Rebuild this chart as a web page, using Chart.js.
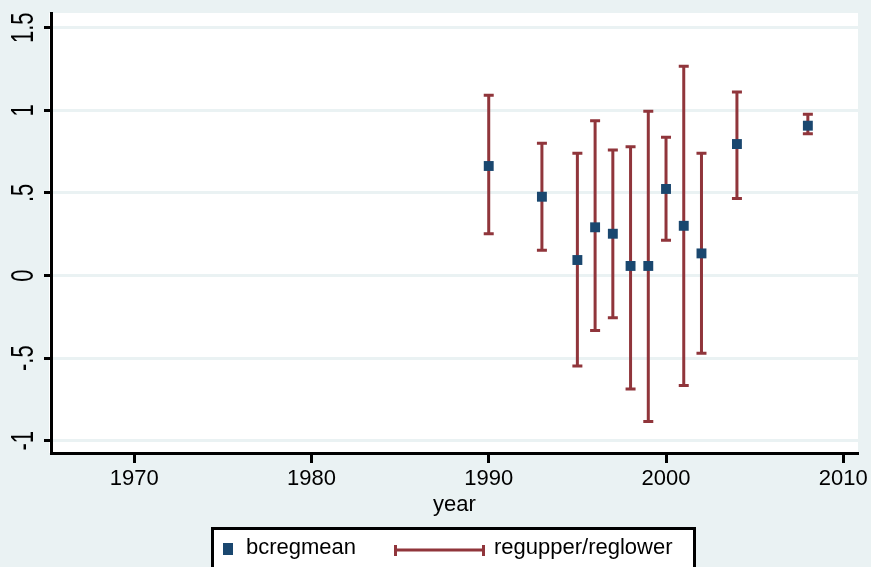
<!DOCTYPE html>
<html>
<head>
<meta charset="utf-8">
<script src="https://cdn.jsdelivr.net/npm/chart.js@4.4.1/dist/chart.umd.min.js"></script>
<style>
  html, body { margin: 0; padding: 0; background: #eaf2f3; }
  canvas { display: block; }
</style>
</head>
<body>
<canvas id="chart" width="871" height="567"></canvas>
<script>
var years     = [1990, 1993, 1995, 1996, 1997, 1998, 1999, 2000, 2001, 2002, 2004, 2008];
var bcregmean = [0.663, 0.477, 0.094, 0.292, 0.253, 0.058, 0.058, 0.524, 0.301, 0.134, 0.796, 0.907];
var regupper  = [1.091, 0.800, 0.740, 0.937, 0.760, 0.780, 0.994, 0.837, 1.266, 0.740, 1.111, 0.976];
var reglower  = [0.253, 0.153, -0.548, -0.332, -0.255, -0.687, -0.883, 0.213, -0.665, -0.471, 0.467, 0.858];

var xTicks = [1970, 1980, 1990, 2000, 2010];
var xTickLabels = ['1970', '1980', '1990', '2000', '2010'];
var yTicks = [-1, -0.5, 0, 0.5, 1, 1.5];
var yTickLabels = ['-1', '-.5', '0', '.5', '1', '1.5'];
var seriesLabels = ['bcregmean', 'regupper/reglower'];
var xTitle = 'year';

var navy = '#1a476f';
var maroon = '#90353b';
var fontFamily = '"Liberation Sans", Arial, sans-serif';

// white plot region
const plotBg = {
  id: 'plotBg',
  beforeDraw(chart) {
    const {ctx, chartArea: {left, top, right, bottom}} = chart;
    ctx.save();
    ctx.fillStyle = '#ffffff';
    ctx.fillRect(left - 2, top, right - left + 2, bottom - top);
    ctx.restore();
  }
};

// range caps (regupper / reglower)
const errorBars = {
  id: 'errorBars',
  beforeDatasetsDraw(chart) {
    const {ctx, scales: {x, y}} = chart;
    ctx.save();
    ctx.strokeStyle = maroon;
    ctx.lineWidth = 3;
    for (let i = 0; i < years.length; i++) {
      const px = x.getPixelForValue(years[i]);
      const pu = y.getPixelForValue(regupper[i]);
      const pl = y.getPixelForValue(reglower[i]);
      ctx.beginPath();
      ctx.moveTo(px, pu); ctx.lineTo(px, pl);
      ctx.moveTo(px - 5, pu); ctx.lineTo(px + 5, pu);
      ctx.moveTo(px - 5, pl); ctx.lineTo(px + 5, pl);
      ctx.stroke();
    }
    ctx.restore();
  }
};

// rotated y labels + legend box
const extras = {
  id: 'extras',
  afterDraw(chart) {
    const {ctx, scales: {y}} = chart;
    const fs = 22;
    ctx.save();
    ctx.fillStyle = '#000';
    ctx.font = fs + 'px ' + fontFamily;
    ctx.textAlign = 'center';
    ctx.textBaseline = 'alphabetic';
    yTicks.forEach((v, i) => {
      const py = y.getPixelForValue(v);
      ctx.save();
      ctx.translate(21.5, py);
      ctx.rotate(-Math.PI / 2);
      ctx.scale(1, 1.4);
      ctx.fillText(yTickLabels[i], 0, 0.358 * fs);
      ctx.restore();
    });

    // legend
    ctx.fillStyle = '#ffffff';
    ctx.fillRect(211, 527, 485, 50);
    ctx.strokeStyle = '#000';
    ctx.lineWidth = 3;
    ctx.strokeRect(212.5, 528.5, 482, 50);

    ctx.fillStyle = navy;
    ctx.fillRect(223, 543, 10, 12);

    ctx.strokeStyle = maroon;
    ctx.lineWidth = 3;
    ctx.beginPath();
    ctx.moveTo(395, 550); ctx.lineTo(484, 550);
    ctx.moveTo(395.5, 545); ctx.lineTo(395.5, 556);
    ctx.moveTo(483.5, 545); ctx.lineTo(483.5, 556);
    ctx.stroke();

    ctx.fillStyle = '#000';
    ctx.textAlign = 'left';
    ctx.fillText(seriesLabels[0], 246, 554);
    ctx.fillText(seriesLabels[1], 494, 554);
    ctx.restore();
  }
};

var ctx = document.getElementById('chart').getContext('2d');
new Chart(ctx, {
  type: 'scatter',
  data: {
    datasets: [{
      label: seriesLabels[0],
      data: years.map((yr, i) => ({x: yr, y: bcregmean[i]})),
      pointStyle: 'rect',
      pointRadius: 7,
      backgroundColor: navy,
      borderColor: navy,
      borderWidth: 0
    }]
  },
  options: {
    responsive: false,
    animation: false,
    events: [],
    layout: {padding: {left: 0, right: 12, top: 13, bottom: 0}},
    plugins: {
      legend: {display: false},
      tooltip: {enabled: false}
    },
    scales: {
      x: {
        type: 'linear',
        min: 1965.31,
        max: 2010.83,
        afterBuildTicks: s => { s.ticks = xTicks.map(v => ({value: v})); },
        afterFit: s => { s.height = 114; },
        grid: {drawOnChartArea: false, drawTicks: true, tickLength: 10, tickWidth: 3, tickColor: '#000'},
        border: {display: true, color: '#000', width: 3},
        ticks: {
          font: {family: fontFamily, size: 22},
          color: '#000',
          padding: 3,
          maxRotation: 0,
          autoSkip: false,
          callback: (v, i) => xTickLabels[i]
        },
        title: {
          display: true,
          text: xTitle,
          font: {family: fontFamily, size: 22},
          color: '#000',
          padding: {top: 0, bottom: 49}
        }
      },
      y: {
        type: 'linear',
        min: -1.074,
        max: 1.589,
        afterBuildTicks: s => { s.ticks = yTicks.map(v => ({value: v})); },
        afterFit: s => { s.width = 51; },
        grid: {color: '#eaf2f3', lineWidth: 3, drawTicks: true, tickLength: 7, tickWidth: 3, tickColor: '#000'},
        border: {display: true, color: '#000', width: 3},
        ticks: {display: false}
      }
    }
  },
  plugins: [plotBg, errorBars, extras]
});
</script>
</body>
</html>
